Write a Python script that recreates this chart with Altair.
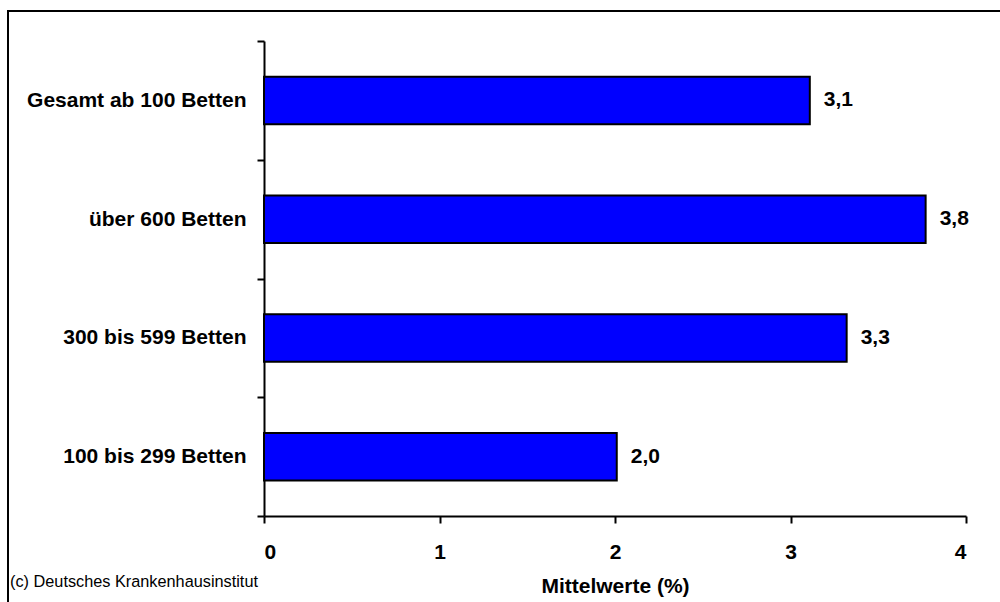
import altair as alt
import pandas as pd

categories = ["Gesamt ab 100 Betten", "über 600 Betten", "300 bis 599 Betten", "100 bis 299 Betten"]
values = [3.11, 3.77, 3.32, 2.01]
value_labels = ["3,1", "3,8", "3,3", "2,0"]
x_ticks = [0, 1, 2, 3, 4]
x_title = "Mittelwerte (%)"
source_note = "(c) Deutsches Krankenhausinstitut"

FONT = "Arial, Liberation Sans, sans-serif"
FS = 21

df = pd.DataFrame({"cat": categories, "val": values, "lab": value_labels})

y_enc = alt.Y(
    "cat:N",
    sort=categories,
    title=None,
    scale=alt.Scale(paddingInner=0, paddingOuter=0),
    axis=alt.Axis(
        tickBand="extent",
        tickSize=7,
        tickWidth=2,
        tickColor="black",
        domainColor="black",
        domainWidth=2,
        labelPadding=11,
        labelFont=FONT,
        labelFontSize=FS,
        labelFontWeight="bold",
        labelColor="black",
        labelLimit=400,
    ),
)

x_enc = alt.X(
    "val:Q",
    scale=alt.Scale(domain=[0, 4], nice=False),
    title=x_title,
    axis=alt.Axis(
        values=x_ticks,
        format="d",
        grid=False,
        tickSize=7,
        tickWidth=2,
        tickColor="black",
        domainColor="black",
        domainWidth=2,
        labelPadding=18,
        labelFont=FONT,
        labelFontSize=FS,
        labelFontWeight="bold",
        labelColor="black",
        titleFont=FONT,
        titleFontSize=FS,
        titleFontWeight="bold",
        titleColor="black",
        titleBaseline="alphabetic",
        titleY=76,
    ),
)

bars = alt.Chart(df).mark_bar(
    color="#0000FF", stroke="black", strokeWidth=2, height=alt.RelativeBandSize(0.4)
).encode(x=x_enc, y=y_enc)

texts = alt.Chart(df).mark_text(
    align="left", baseline="middle", dx=14, font=FONT, fontSize=FS, fontWeight="bold", color="black"
).encode(
    x=alt.X("val:Q"),
    y=alt.Y("cat:N", sort=categories),
    text="lab:N",
)

note_df = pd.DataFrame({"t": [source_note]})
note = alt.Chart(note_df).mark_text(
    align="left", baseline="alphabetic", font=FONT, fontSize=16.3, color="black"
).encode(x=alt.value(-254), y=alt.value(546), text="t:N")

frame = alt.Chart(note_df).mark_rect(fill=None, stroke="black", strokeWidth=2).encode(
    x=alt.value(-256), x2=alt.value(760), y=alt.value(-30), y2=alt.value(580)
)

chart = alt.layer(frame, bars, texts, note).properties(
    width=702,
    height=475,
    padding={"left": 264, "top": 41, "right": 34, "bottom": 86},
    autosize=alt.AutoSizeParams(type="none"),
    background="white",
).configure_view(stroke=None)

chart.save("out.html", embed_options={"renderer": "svg", "actions": False})
